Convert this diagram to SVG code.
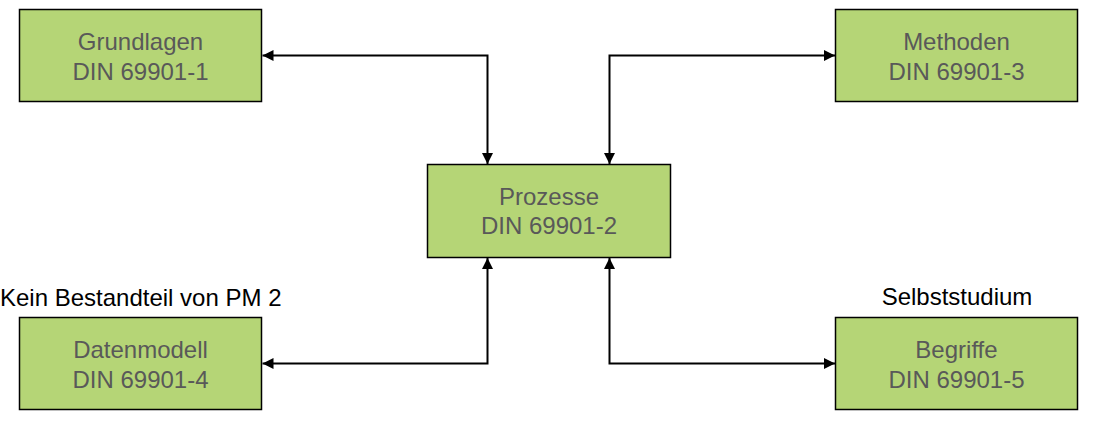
<svg xmlns="http://www.w3.org/2000/svg" width="1101" height="431" viewBox="0 0 1101 431">
<style>
.box{fill:#b5d576;stroke:#000;stroke-width:1.5}
.t{font-family:"Liberation Sans",Arial,sans-serif;font-size:24px;fill:#595959;text-anchor:middle}
.lbl{font-family:"Liberation Sans",Arial,sans-serif;font-size:24px;fill:#000}
.c{fill:none;stroke:#000;stroke-width:2;marker-start:url(#ah);marker-end:url(#ah)}
</style>
<defs>
<marker id="ah" viewBox="0 0 10 10" refX="10" refY="5" markerUnits="userSpaceOnUse" markerWidth="11" markerHeight="11" orient="auto-start-reverse">
<path d="M0,0 L10,5 L0,10 z" fill="#000"/>
</marker>
</defs>
<rect width="1101" height="431" fill="#fff"/>
<g id="connectors">
<path class="c" d="M262.5,55.5 H487.5 V164"/>
<path class="c" d="M835,55.5 H609.5 V164"/>
<path class="c" d="M262.5,363.5 H487.5 V258"/>
<path class="c" d="M835,363.5 H609.5 V258"/>
</g>
<g id="grundlagen">
<rect class="box" x="19.5" y="9.5" width="242" height="92"/>
<text class="t" x="140.5" y="50">Grundlagen</text>
<text class="t" x="140.5" y="80">DIN 69901-1</text>
</g>
<g id="methoden">
<rect class="box" x="835.5" y="9.5" width="242" height="92"/>
<text class="t" x="956.5" y="50">Methoden</text>
<text class="t" x="956.5" y="80">DIN 69901-3</text>
</g>
<g id="prozesse">
<rect class="box" x="427.5" y="164.5" width="243" height="93"/>
<text class="t" x="549" y="205">Prozesse</text>
<text class="t" x="549" y="234">DIN 69901-2</text>
</g>
<g id="datenmodell">
<rect class="box" x="19.5" y="317.5" width="242" height="92"/>
<text class="t" x="140.5" y="358">Datenmodell</text>
<text class="t" x="140.5" y="388">DIN 69901-4</text>
</g>
<g id="begriffe">
<rect class="box" x="835.5" y="317.5" width="242" height="92"/>
<text class="t" x="956.5" y="358">Begriffe</text>
<text class="t" x="956.5" y="388">DIN 69901-5</text>
</g>
<text class="lbl" x="0" y="306">Kein Bestandteil von PM 2</text>
<text class="lbl" x="957" y="305" text-anchor="middle">Selbststudium</text>
</svg>
